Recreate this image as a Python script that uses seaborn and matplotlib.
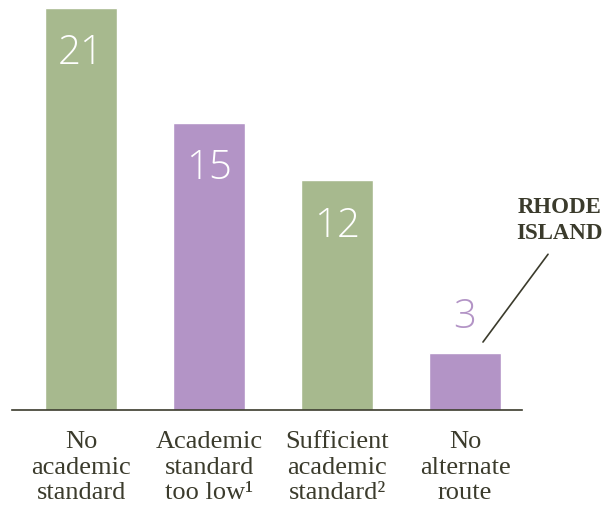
import numpy as np
import seaborn as sns
import matplotlib.pyplot as plt
import pandas as pd

categories = ["No\nacademic\nstandard", "Academic\nstandard\ntoo low\u00b9",
              "Sufficient\nacademic\nstandard\u00b2", "No\nalternate\nroute"]
values = [21, 15, 12, 3]
colors = ["#a7b98e", "#b394c6", "#a7b98e", "#b394c6"]

df = pd.DataFrame({"cat": categories, "val": values})

sns.set_style("white")
fig = plt.figure(figsize=(6.15, 5.12), dpi=100)
ax = fig.add_axes([12/615, 102/512, 510/615, 402/512])
sns.barplot(data=df, x="cat", y="val", hue="cat", palette=colors,
            width=0.56, legend=False, saturation=1, ax=ax)

ax.set_xlim(-0.54, 3.445)
ax.set_ylim(0, 21)
for s in ["top", "right", "left"]:
    ax.spines[s].set_visible(False)
ax.spines["bottom"].set_color("#3b3b2c")
ax.spines["bottom"].set_linewidth(1.2)
ax.set_yticks([])
ax.set_xlabel("")
ax.set_ylabel("")
ax.tick_params(axis="x", length=0, pad=15)
ax.set_xticks(range(4))
ax.set_xticklabels(categories, fontsize=19, family="Liberation Serif",
                   color="#3b3b2c", linespacing=1.22, va="top")

# value labels
for i, v in enumerate(values):
    if v > 5:
        ax.text(i, v - 2.4, str(v), ha="center", va="center", color="white",
                fontsize=29, family="Open Sans", fontweight="light")
    else:
        ax.text(i, v + 1.85, str(v), ha="center", va="center", color=colors[i],
                fontsize=29, family="Open Sans", fontweight="light")

ax.annotate("RHODE\nISLAND", xy=(3.14, 3.55), xytext=(3.74, 9.9),
            ha="center", va="center", fontsize=16.5, fontweight="bold",
            family="Liberation Serif", color="#3b3b2c", linespacing=1.35,
            annotation_clip=False,
            arrowprops=dict(arrowstyle="-", color="#3b3b2c", lw=1.2,
                            relpos=(0.45, 0), shrinkA=6, shrinkB=0))

plt.savefig("out.png", dpi=100)
